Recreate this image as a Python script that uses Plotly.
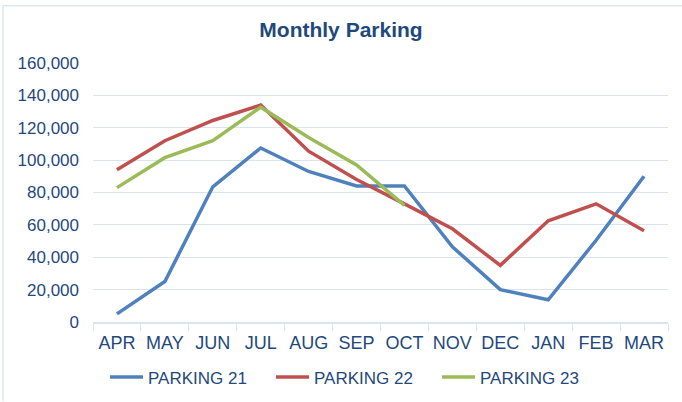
import plotly.graph_objects as go

months = ["APR", "MAY", "JUN", "JUL", "AUG", "SEP", "OCT", "NOV", "DEC", "JAN", "FEB", "MAR"]
parking_21 = [5000, 25000, 83500, 107500, 93000, 84000, 84000, 46500, 20000, 13700, 50500, 90000]
parking_22 = [94000, 112000, 124500, 134000, 105500, 88000, 73000, 57600, 35000, 62500, 73000, 56400]
parking_23 = [83000, 101500, 112000, 132700, 114000, 97000, 72000]

series = [
    ("PARKING 21", parking_21, "#4F81BD"),
    ("PARKING 22", parking_22, "#C0504D"),
    ("PARKING 23", parking_23, "#9BBB59"),
]

text_color = "#1F497D"
grid_color = "#DAE4F1"
border_color = "#DCE6F2"

fig = go.Figure()
for name, vals, color in series:
    fig.add_trace(go.Scatter(
        x=months[:len(vals)], y=vals, name=name, mode="lines",
        line=dict(color=color, width=3.5),
    ))

W, H = 682, 402
ml, mr, mt, mb = 93, 14, 62.5, 79.5
pw, ph = W - ml - mr, H - mt - mb

def px_x(x):
    return (x - ml) / pw

def px_y(y):
    return 1 - (y - mt) / ph

fig.update_layout(
    width=W, height=H,
    margin=dict(l=ml, r=mr, t=mt, b=mb, autoexpand=False),
    paper_bgcolor="white", plot_bgcolor="white",
    font=dict(family="Liberation Sans, Arial, sans-serif", color=text_color, size=17),
    title=dict(text="<b>Monthly Parking</b>", x=341 / W, xanchor="center",
               y=1 - 30 / H, yanchor="middle",
               font=dict(size=21, color=text_color)),
    showlegend=True,
    legend=dict(orientation="h", x=px_x(105), xanchor="left",
                y=-(378 - 322.5 - 18) / ph, yanchor="top",
                font=dict(size=17, color=text_color), itemwidth=33,
                entrywidth=118, entrywidthmode="pixels",
                traceorder="normal"),
    xaxis=dict(
        type="category", categoryorder="array", categoryarray=months,
        showgrid=False, showline=True, linecolor=grid_color, linewidth=1.5,
        ticks="outside", tickson="boundaries", ticklen=7, tickcolor=grid_color,
        tickangle=0, ticklabelstandoff=4,
        tickfont=dict(size=18, color=text_color), range=[-0.5, 11.5],
    ),
    yaxis=dict(
        range=[0, 160000], dtick=20000, tickformat=",d",
        showgrid=True, gridcolor=grid_color, gridwidth=1.2,
        zeroline=False, showline=False, ticks="", ticklen=0,
        ticklabelstandoff=13,
        tickfont=dict(size=17, color=text_color),
    ),
    shapes=[
        dict(type="line", xref="paper", yref="paper",
             x0=px_x(3), x1=px_x(W), y0=px_y(5), y1=px_y(5),
             line=dict(color=border_color, width=1.5), layer="below"),
        dict(type="line", xref="paper", yref="paper",
             x0=px_x(3), x1=px_x(3), y0=px_y(5), y1=px_y(H),
             line=dict(color=border_color, width=1.5), layer="below"),
    ],
)

fig.write_html("out.html", config={"displayModeBar": False},
               post_script="document.body.style.margin='0';")
